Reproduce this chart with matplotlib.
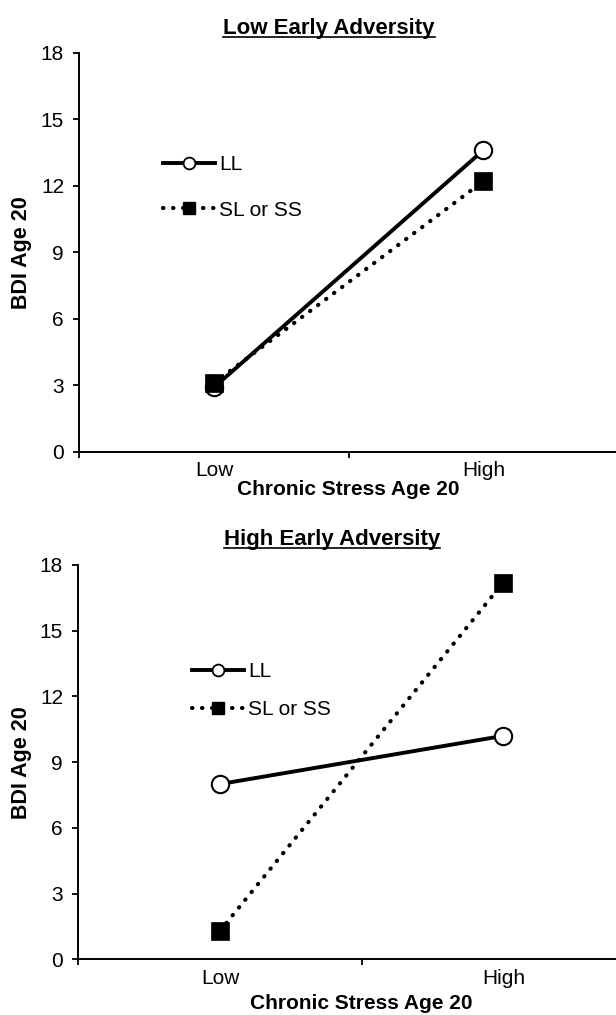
import numpy as np
import matplotlib
matplotlib.use('Agg')
import matplotlib.pyplot as plt
import matplotlib.lines as mlines

plt.rcParams['font.family'] = ['Liberation Sans', 'DejaVu Sans']

# datos
estres = ['Low', 'High']
ll_baja = [2.9, 13.6]
sl_baja = [3.1, 12.2]
ll_alta = [8.0, 10.2]
sl_alta = [1.3, 17.2]
titulos = ['Low Early Adversity', 'High Early Adversity']
yticks = [0, 3, 6, 9, 12, 15, 18]

W, H = 616, 1015
fig = plt.figure(figsize=(W / 100, H / 100), dpi=100)

# posiciones en pixeles: izq, der, y(18), y(0)
paneles = [
    dict(izq=79.3, der=618, top=52.7, bot=451.7, ll=ll_baja, sl=sl_baja,
         tit_x=329, tit_y=34, leg_x=163, leg_y=187.5, leg_sp=1.25,
         xlab=38, ylab_x=21.6),
    dict(izq=78.3, der=645, top=565, bot=959.3, ll=ll_alta, sl=sl_alta,
         tit_x=332, tit_y=545, leg_x=192, leg_y=690.5, leg_sp=0.92,
         xlab=44, ylab_x=21.6),
]

titulos_txt = []
for p, titulo in zip(paneles, titulos):
    ax = fig.add_axes([p['izq'] / W, 1 - p['bot'] / H,
                       (p['der'] - p['izq']) / W, (p['bot'] - p['top']) / H])
    x = np.arange(len(estres))
    ax.plot(x, p['ll'], color='black', lw=2.8, zorder=2)
    ax.plot(x, p['sl'], color='black', lw=3.0, linestyle=(0, (0.1, 2.3)),
            dash_capstyle='round', zorder=2)
    ax.plot(x, p['ll'], linestyle='None', marker='o', ms=12.5, mfc='white',
            mec='black', mew=1.5, zorder=3)
    ax.plot(x, p['sl'], linestyle='None', marker='s', ms=13, mfc='black',
            mec='black', mew=0.5, zorder=4)

    ax.set_xlim(-0.5, 1.5)
    ax.set_ylim(0, 18)
    ax.set_yticks(yticks)
    ax.set_yticklabels([str(v) for v in yticks], fontsize=15)
    ax.set_xticks([-0.5, 0.5, 1.5])
    ax.set_xticklabels([])
    ax.set_xticks(x, minor=True)
    ax.set_xticklabels(estres, minor=True, fontsize=15)
    ax.tick_params(axis='x', which='minor', length=0, pad=7)
    ax.tick_params(axis='both', which='major', direction='out', length=4,
                   width=1.3, pad=7)
    for s in ['top', 'right']:
        ax.spines[s].set_visible(False)
    for s in ['left', 'bottom']:
        ax.spines[s].set_linewidth(1.4)

    alto = p['bot'] - p['top']
    ancho = p['der'] - p['izq']
    ax.set_xlabel('Chronic Stress Age 20', fontsize=15, fontweight='bold')
    ax.xaxis.label.set_va('center')
    ax.xaxis.set_label_coords(0.5, -p['xlab'] / alto)
    ax.set_ylabel('BDI Age 20', fontsize=15.5, fontweight='bold')
    ax.yaxis.label.set_va('center')
    ax.yaxis.set_label_coords((p['ylab_x'] - p['izq']) / ancho, 0.5)

    # Leyenda
    h_ll = mlines.Line2D([], [], color='black', lw=2.8, marker='o', ms=8.5,
                         mfc='white', mec='black', mew=1.3)
    h_sl = mlines.Line2D([], [], color='black', lw=3.0, linestyle=(0, (0.1, 2.3)),
                         dash_capstyle='round', marker='s', ms=9, mfc='black')
    ax.legend(handles=[h_ll, h_sl], labels=['LL', 'SL or SS'], frameon=False,
              loc='center left', fontsize=15,
              bbox_to_anchor=(p['leg_x'] / W, 1 - p['leg_y'] / H),
              bbox_transform=fig.transFigure, borderpad=0, borderaxespad=0,
              handlelength=2.5, handletextpad=0.2, labelspacing=p['leg_sp'])

    t = fig.text(p['tit_x'] / W, 1 - p['tit_y'] / H, titulo, fontsize=16,
                 fontweight='bold', ha='center', va='baseline')
    titulos_txt.append(t)

# subrayado de los titulos
fig.canvas.draw()
for t in titulos_txt:
    bb = t.get_window_extent()
    y_base = t.get_position()[1] * H - 2.5
    fig.add_artist(mlines.Line2D([bb.x0 / W, bb.x1 / W], [y_base / H, y_base / H],
                                 color='black', lw=1.2, transform=fig.transFigure))

fig.savefig('out.png', dpi=100)
